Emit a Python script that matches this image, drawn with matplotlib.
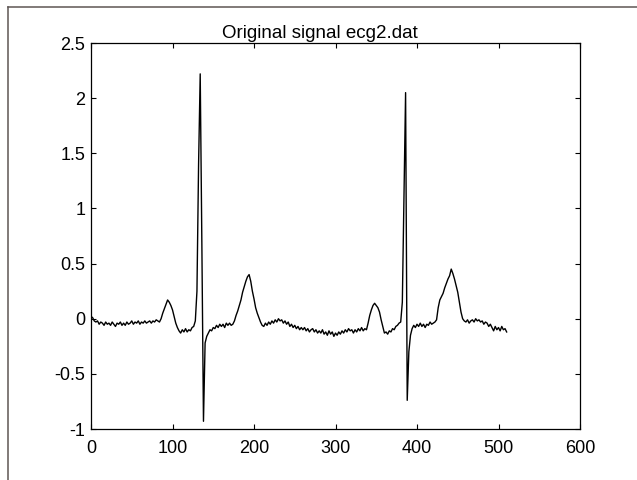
"""Original ECG signal (ecg2.dat), MATLAB-style line plot."""

import numpy as np
import matplotlib
matplotlib.use("Agg")
import matplotlib.pyplot as plt
from matplotlib.lines import Line2D

plt.rcParams["font.family"] = ["Liberation Sans", "DejaVu Sans"]
plt.rcParams["axes.unicode_minus"] = False

# samples, every 2nd sample (0, 2, ..., 510)
SAMPLE_STEP = 2
ecg_values = [
    0.02, 0.01, -0.02, -0.03, -0.02, -0.05, -0.03, -0.04, -0.06, -0.03,
    -0.05, -0.04, -0.06, -0.03, -0.05, -0.07, -0.04, -0.05, -0.03, -0.06,
    -0.04, -0.06, -0.03, -0.05, -0.04, -0.02, -0.05, -0.03, -0.04, -0.02,
    -0.05, -0.03, -0.04, -0.02, -0.04, -0.03, -0.02, -0.04, -0.02, -0.03,
    -0.01, -0.02, -0.03, 0.00, 0.05, 0.09, 0.13, 0.17, 0.15, 0.12,
    0.08, 0.02, -0.04, -0.08, -0.11, -0.13, -0.10, -0.12, -0.09, -0.12,
    -0.10, -0.11, -0.08, -0.07, -0.02, 0.25, 1.40, 2.22, 0.70, -0.93,
    -0.22, -0.16, -0.13, -0.10, -0.11, -0.08, -0.09, -0.06, -0.08, -0.05,
    -0.07, -0.05, -0.08, -0.04, -0.06, -0.04, -0.06, -0.05, -0.02, 0.03,
    0.07, 0.12, 0.17, 0.24, 0.29, 0.34, 0.38, 0.40, 0.34, 0.25,
    0.18, 0.10, 0.05, 0.01, -0.03, -0.06, -0.07, -0.04, -0.06, -0.03,
    -0.05, -0.02, -0.04, -0.01, -0.03, 0.00, -0.02, -0.01, -0.04, -0.02,
    -0.05, -0.03, -0.07, -0.05, -0.08, -0.06, -0.09, -0.07, -0.10, -0.08,
    -0.10, -0.08, -0.11, -0.09, -0.12, -0.10, -0.09, -0.12, -0.10, -0.13,
    -0.11, -0.13, -0.10, -0.14, -0.12, -0.15, -0.11, -0.14, -0.12, -0.16,
    -0.13, -0.15, -0.12, -0.14, -0.11, -0.13, -0.10, -0.12, -0.09, -0.11,
    -0.10, -0.13, -0.10, -0.12, -0.09, -0.11, -0.08, -0.11, -0.09, -0.10,
    -0.04, 0.03, 0.08, 0.12, 0.14, 0.12, 0.10, 0.06, -0.01, -0.07,
    -0.13, -0.12, -0.14, -0.11, -0.12, -0.09, -0.10, -0.07, -0.06, -0.04,
    -0.03, 0.15, 1.10, 2.05, -0.74, -0.30, -0.15, -0.09, -0.06, -0.08,
    -0.05, -0.07, -0.04, -0.07, -0.05, -0.08, -0.05, -0.06, -0.03, -0.05,
    -0.04, -0.03, -0.01, 0.10, 0.17, 0.20, 0.23, 0.28, 0.32, 0.36,
    0.39, 0.45, 0.41, 0.36, 0.30, 0.24, 0.15, 0.06, 0.00, -0.02,
    -0.03, -0.01, -0.04, -0.02, -0.01, -0.03, 0.00, -0.02, -0.01, -0.03,
    -0.02, -0.05, -0.03, -0.04, -0.07, -0.05, -0.08, -0.11, -0.07, -0.10,
    -0.08, -0.11, -0.07, -0.10, -0.09, -0.12,
]
sample_idx = np.arange(len(ecg_values)) * SAMPLE_STEP

x_ticks = [0, 100, 200, 300, 400, 500, 600]
y_ticks = [-1, -0.5, 0, 0.5, 1, 1.5, 2, 2.5]
title = "Original signal ecg2.dat"

W, H = 637, 480
fig = plt.figure(figsize=(W / 100, H / 100), dpi=100)
ax = fig.add_axes([91 / W, 51 / H, 489 / W, 386 / H])

ax.plot(sample_idx, ecg_values, color="black", linewidth=1.0)

ax.set_xlim(0, 600)
ax.set_ylim(-1, 2.5)
ax.set_xticks(x_ticks)
ax.set_yticks(y_ticks)
ax.set_xticklabels([f"{v:g}" for v in x_ticks])
ax.set_yticklabels([f"{v:g}" for v in y_ticks])
ax.tick_params(direction="in", length=3.6, width=0.8, top=True, right=True,
               labelsize=13, colors="black")
ax.tick_params(axis="x", pad=8)
ax.tick_params(axis="y", pad=4)
for sp in ax.spines.values():
    sp.set_linewidth(0.9)
    sp.set_color("black")

ax.text(0.468, 1.0 + 1 / 386, title, transform=ax.transAxes,
        ha="center", va="bottom", fontsize=13.5)

# window frame from the screenshot (top and left edges)
frame_kw = dict(color="#5e5654", linewidth=1.1, transform=fig.transFigure)
fig.add_artist(Line2D([8 / W, 1.0], [1 - 7 / H, 1 - 7 / H], **frame_kw))
fig.add_artist(Line2D([8 / W, 8 / W], [0.0, 1 - 7 / H], **frame_kw))

fig.savefig("out.png", dpi=100)
